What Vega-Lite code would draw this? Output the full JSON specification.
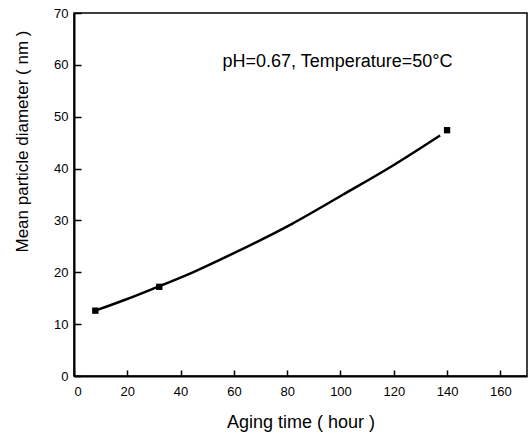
{
  "$schema": "https://vega.github.io/schema/vega-lite/v6.json",
  "autosize": {"type": "none"},
  "padding": {"left": 74, "top": 13, "right": 1, "bottom": 59},
  "width": 453,
  "height": 363,
  "background": "white",
  "config": {
    "view": {"stroke": "black", "strokeWidth": 1.5},
    "font": "Liberation Sans",
    "axis": {
      "domainColor": "black",
      "domainWidth": 2,
      "tickColor": "black",
      "tickWidth": 1.5,
      "labelColor": "black",
      "labelFont": "Liberation Sans",
      "labelFontSize": 13,
      "titleColor": "black",
      "titleFont": "Liberation Sans",
      "titleFontWeight": "normal",
      "grid": false
    }
  },
  "datasets": {
    "curve": [
      {"t": 8.5, "d": 12.7},
      {"t": 19.7, "d": 14.8},
      {"t": 30, "d": 16.9},
      {"t": 44.6, "d": 20.0},
      {"t": 59.6, "d": 23.6},
      {"t": 82, "d": 29.4},
      {"t": 100.7, "d": 34.9},
      {"t": 119.4, "d": 40.5},
      {"t": 137.4, "d": 46.4}
    ],
    "pts": [
      {"t": 8, "d": 12.6},
      {"t": 32, "d": 17.2},
      {"t": 140, "d": 47.4}
    ],
    "note": [
      {"t": 55.7, "d": 60.5, "label": "pH=0.67, Temperature=50°C"}
    ]
  },
  "layer": [
    {
      "data": {"name": "curve"},
      "mark": {"type": "line", "interpolate": "monotone", "color": "black", "strokeWidth": 2.5},
      "encoding": {
        "x": {
          "field": "t", "type": "quantitative",
          "scale": {"domain": [0, 170], "nice": false, "zero": false},
          "axis": {
            "title": "Aging time ( hour )",
            "titleFontSize": 18,
            "values": [0, 10, 20, 30, 40, 50, 60, 70, 80, 90, 100, 110, 120, 130, 140, 150, 160],
            "labelExpr": "datum.value % 20 === 0 ? datum.label : ''",
            "tickSize": {"condition": {"test": "datum.value % 20 === 0", "value": -6}, "value": -3},
            "labelPadding": 15,
            "titlePadding": 15
          }
        },
        "y": {
          "field": "d", "type": "quantitative",
          "scale": {"domain": [0, 70], "nice": false},
          "axis": {
            "title": "Mean particle diameter ( nm )",
            "titleFontSize": 17,
            "values": [0, 5, 10, 15, 20, 25, 30, 35, 40, 45, 50, 55, 60, 65, 70],
            "labelExpr": "datum.value % 10 === 0 ? datum.label : ''",
            "tickSize": {"condition": {"test": "datum.value % 10 === 0", "value": -7}, "value": -4},
            "labelPadding": 13,
            "titleY": 128,
            "titlePadding": 22
          }
        }
      }
    },
    {
      "data": {"name": "pts"},
      "mark": {"type": "point", "shape": "square", "filled": true, "color": "black", "size": 40, "opacity": 1},
      "encoding": {
        "x": {"field": "t", "type": "quantitative"},
        "y": {"field": "d", "type": "quantitative"}
      }
    },
    {
      "data": {"name": "note"},
      "mark": {"type": "text", "align": "left", "baseline": "middle", "fontSize": 18, "font": "Liberation Sans", "color": "black"},
      "encoding": {
        "x": {"field": "t", "type": "quantitative"},
        "y": {"field": "d", "type": "quantitative"},
        "text": {"field": "label"}
      }
    }
  ]
}
